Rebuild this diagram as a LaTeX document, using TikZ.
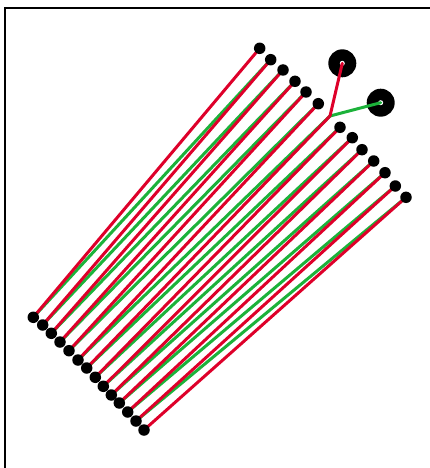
\documentclass[tikz,border=0pt]{standalone}
\usepackage{tikz}
\definecolor{wirered}{RGB}{222,0,42}
\definecolor{wiregreen}{RGB}{28,178,58}

\begin{document}
\begin{tikzpicture} [
    x=1pt, y=-1pt,
    pin/.style={circle, fill=black, inner sep=0pt, minimum size=11.5pt},
    pad/.style={circle, fill=black, inner sep=0pt, minimum size=28pt},
    hole/.style={circle, fill=white, inner sep=0pt, minimum size=5pt},
    redwire/.style={draw=wirered, line width=3pt, line cap=round},
    greenwire/.style={draw=wiregreen, line width=3pt, line cap=round}
]
\useasboundingbox (0,0) rectangle (430,468);
\draw[line width=1.2pt] (5,8) rectangle (433,471);

% Upper row (t7 is the bend)
\foreach \i/\x/\y in {1/259.7/48.3, 2/270.7/59.7, 3/283/70, 4/295/81.3, 5/306/92,
    6/318.3/103.7, 7/330/116, 8/340/127.3, 9/352.3/137.7, 10/362/149.7,
    11/373.7/161, 12/385/172.7, 13/395.3/186, 14/406/197.3}
    \coordinate (t\i) at (\x,\y);
% Lower row
\foreach \i/\x/\y in {1/33.3/317.3, 2/42.7/325, 3/51.3/333.3, 4/60/342, 5/69/350.7,
    6/78/360, 7/86.7/368, 8/95.3/377.3, 9/103.3/386.3, 10/111.3/395,
    11/119.3/403, 12/127.7/412, 13/136/421, 14/144/430}
    \coordinate (b\i) at (\x,\y);

% Pads
\node[pad] (padA) at (342.3,63.3) {};
\node[pad] (padB) at (380.7,102.7) {};
\node[hole] (holeA) at (padA.center) {};
\node[hole] (holeB) at (padB.center) {};

% Wires
\foreach \i in {1,...,13} {
    \pgfmathtruncatemacro\j{\i+1}
    \draw[greenwire] (t\j) -- (b\i);
}
\foreach \i in {1,...,14}
    \draw[redwire] (t\i) -- (b\i);
\draw[greenwire] (t7) -- (holeB.center);
\draw[redwire] (t7) -- (holeA.center);

% Pins
\foreach \i in {1,...,6,8,9,...,14}
    \node[pin] (pt\i) at (t\i) {};
\foreach \i in {1,...,14}
    \node[pin] (pb\i) at (b\i) {};

\end{tikzpicture}
\end{document}
